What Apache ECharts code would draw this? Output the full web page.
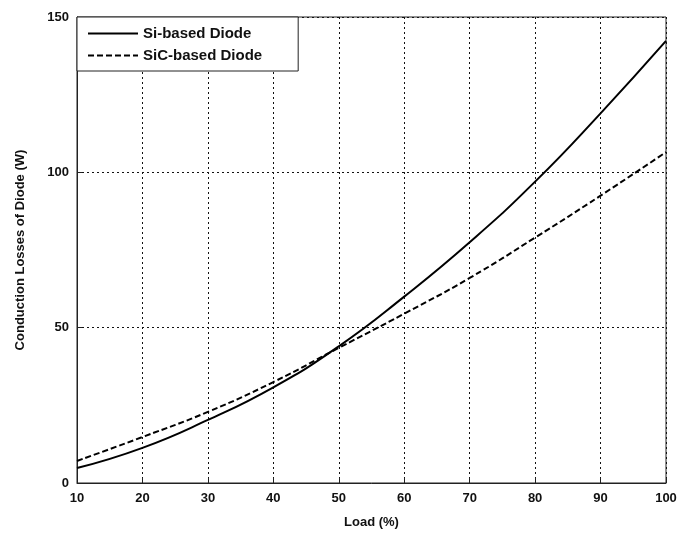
<!DOCTYPE html>
<html>
<head>
<meta charset="utf-8">
<script src="https://cdn.jsdelivr.net/npm/echarts@6/dist/echarts.min.js"></script>
<style>
  html, body { margin: 0; padding: 0; background: #fff; }
  #chart { width: 682px; height: 537px; }
</style>
</head>
<body>
<div id="chart"></div>
<script>
// data
var load = [10, 20, 30, 40, 50, 60, 70, 80, 90, 100];
var siDiode = [4.8, 11.3, 20.3, 30.8, 44, 60, 77.5, 97, 119, 142.3];
var sicDiode = [7.1, 14.8, 22.9, 32.5, 43.5, 54.5, 66, 79, 92.5, 106.5];

function pairs(xs, ys) {
    return xs.map(function(x, i) { return [x, ys[i]]; });
}

var font = 'Liberation Sans';
var chart = echarts.init(document.getElementById('chart'));
chart.setOption({
    animation: false,
    grid: {
        left: 77, top: 17, right: 16, bottom: 54,
        show: true,
        borderColor: '#222',
        borderWidth: 1
    },
    legend: {
        left: 77, top: 17,
        orient: 'vertical',
        backgroundColor: '#fff',
        borderColor: '#222',
        borderWidth: 1,
        borderRadius: 0,
        padding: [9, 36, 8, 10],
        itemGap: 7,
        itemWidth: 50,
        itemHeight: 14,
        itemStyle: { color: 'transparent', borderWidth: 0 },
        textStyle: { fontFamily: font, fontWeight: 'bold', fontSize: 15, color: '#111' },
        data: ['Si-based Diode', 'SiC-based Diode']
    },
    xAxis: {
        type: 'value',
        min: 10, max: 100, interval: 10,
        name: 'Load (%)',
        nameLocation: 'middle',
        nameGap: 33,
        nameTextStyle: { fontFamily: font, fontWeight: 'bold', fontSize: 13, color: '#111' },
        axisLine: { lineStyle: { color: '#222' } },
        axisTick: { inside: true, length: 5, lineStyle: { color: '#222' } },
        axisLabel: { fontFamily: font, fontWeight: 'bold', fontSize: 13, color: '#111', margin: 9 },
        splitLine: { lineStyle: { color: '#111', type: [2, 3] } }
    },
    yAxis: {
        type: 'value',
        min: 0, max: 150, interval: 50,
        name: 'Conduction Losses of Diode (W)',
        nameLocation: 'middle',
        nameGap: 50,
        nameTextStyle: { fontFamily: font, fontWeight: 'bold', fontSize: 13, color: '#111' },
        axisLine: { show: true, lineStyle: { color: '#222' } },
        axisTick: { show: true, inside: true, length: 5, lineStyle: { color: '#222' } },
        axisLabel: { fontFamily: font, fontWeight: 'bold', fontSize: 13, color: '#111', margin: 8 },
        splitLine: { lineStyle: { color: '#111', type: [2, 3] } }
    },
    series: [
        {
            name: 'Si-based Diode',
            type: 'line',
            smooth: true,
            symbol: 'none',
            data: pairs(load, siDiode),
            lineStyle: { color: '#000', width: 2 },
            itemStyle: { color: '#000' }
        },
        {
            name: 'SiC-based Diode',
            type: 'line',
            smooth: true,
            symbol: 'none',
            data: pairs(load, sicDiode),
            lineStyle: { color: '#000', width: 2, type: [6, 3] },
            itemStyle: { color: '#000' }
        }
    ]
});
</script>
</body>
</html>
